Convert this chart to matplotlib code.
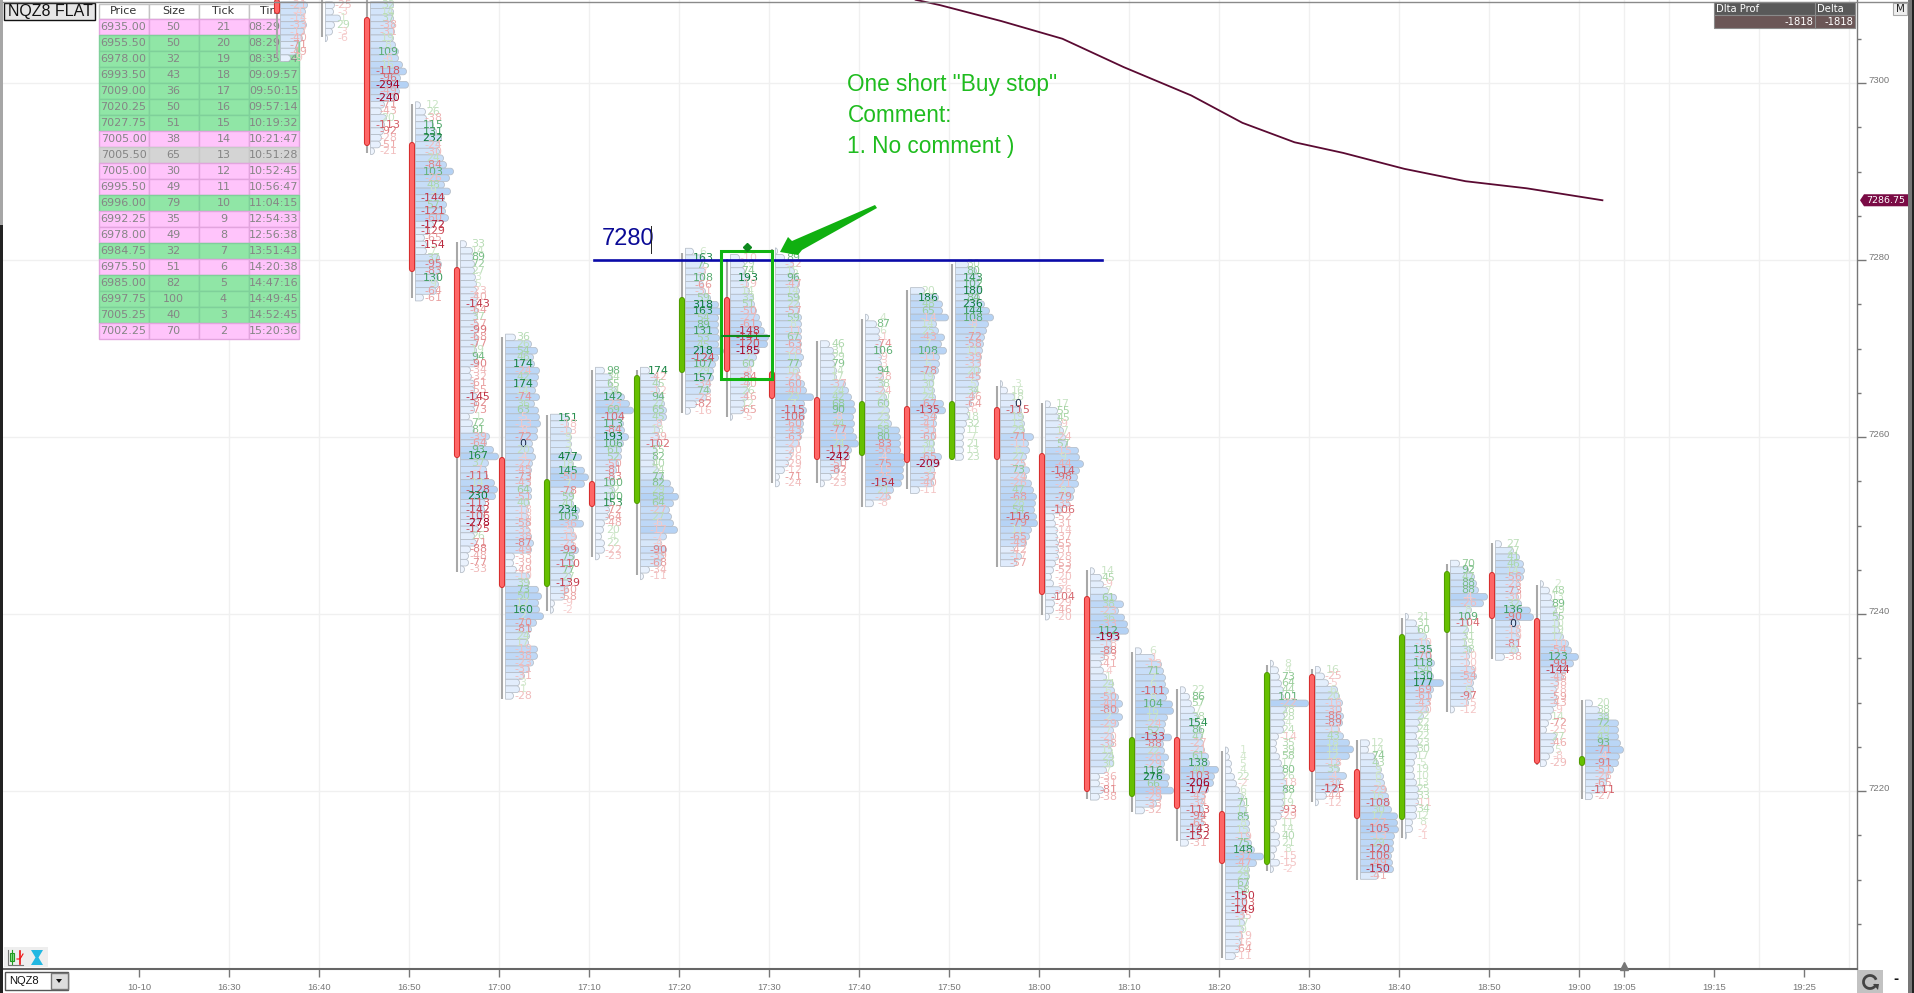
import matplotlib
matplotlib.use("Agg")
import matplotlib.pyplot as plt
from matplotlib.colors import LinearSegmentedColormap
from matplotlib.patches import Arc, PathPatch, Polygon, Rectangle
from matplotlib.path import Path

# ==========================================
# 1. DATA
# ==========================================
# bars, minutes after midnight
bar_minutes = [995, 1000, 1005, 1010, 1015, 1020, 1025, 1030, 1035, 1040, 1045, 1050, 1055, 1060, 1065,
               1070, 1075, 1080, 1085, 1090, 1095, 1100, 1105, 1110, 1115, 1120, 1125, 1130, 1135, 1140]
bar_top = [7308.8, 7308.8, 7308.8, 7297.5, 7281.8, 7271.25, 7262.2, 7267.5, 7267.5, 7280.95,
           7280.25, 7281.0, 7270.5, 7273.5, 7276.5, 7279.5, 7266.0, 7263.7, 7244.85, 7235.8,
           7231.4, 7224.6, 7234.4, 7233.7, 7225.4, 7239.7, 7245.7, 7247.9, 7243.4, 7229.9]
wick_hi = [7312.0, 7309.4, 7309.4, 7297.6, 7282.0, 7271.3, 7262.5, 7267.6, 7267.6, 7280.8,
           7280.1, 7281.2, 7270.8, 7273.3, 7276.6, 7279.5, 7265.8, 7263.8, 7245.0, 7235.7,
           7231.5, 7224.5, 7234.2, 7233.8, 7225.8, 7239.5, 7245.7, 7248.0, 7243.3, 7230.3]
wick_lo = [7302.9, 7305.2, 7292.1, 7275.7, 7244.8, 7230.4, 7240.3, 7246.4, 7244.4, 7262.7,
           7262.3, 7254.8, 7254.8, 7252.1, 7254.1, 7257.4, 7245.3, 7239.9, 7219.1, 7217.6,
           7214.3, 7201.1, 7211.0, 7218.8, 7210.0, 7214.7, 7228.9, 7234.9, 7222.9, 7219.1]
body_open = [7309.5, 7307.5, 7307.5, 7293.3, 7279.2, 7257.7, 7243.1, 7255.0, 7252.4, 7267.2,
             7275.8, 7267.5, 7264.5, 7257.9, 7263.5, 7257.4, 7263.4, 7258.2, 7242.0, 7219.3,
             7226.1, 7217.7, 7211.6, 7233.2, 7222.5, 7216.7, 7237.8, 7244.7, 7239.5, 7222.8]
body_close = [7307.8, 7307.5, 7292.9, 7278.6, 7257.6, 7242.9, 7255.2, 7252.1, 7267.0, 7275.8,
              7267.4, 7264.3, 7257.4, 7264.1, 7257.1, 7264.1, 7257.4, 7242.1, 7219.9, 7226.1,
              7218.0, 7211.8, 7233.4, 7222.1, 7216.8, 7237.7, 7244.9, 7239.4, 7223.1, 7223.9]

# delta per price row, top row first, and profile volume per row (about 1 unit = 1 px)
delta_1635 = [-21, -4, -14, -33, -17, -40, -71, -49, -9]
vol_1635 = [27, 25, 24, 26, 24, 22, 18, 16, 10]
delta_1640 = [-25, -3, 1, 29, -3, -6]
vol_1640 = [9, 8, 15, 9, 7, 2]
delta_1645 = [32, 14, 37, -38, -31, 19, 8, 109, -6, 16, -118, -96, -294, -49, -240, -71, -43, 20, -113, -92, -28, -51, -21]
vol_1645 = [23, 23, 23, 24, 24, 23, 25, 28, 28, 32, 36, 30, 38, 29, 26, 14, 11, 16, 14, 13, 11, 10, 4]
delta_1650 = [12, 26, -38, 115, 131, 232, -24, -30, 24, -84, 103, -26, 48, 9, -144, 57, -121, -60, -172, -129, -65, -154, 7, 37, -95, -83, 130, 9, -64, -61]
vol_1650 = [5, 10, 11, 18, 21, 26, 24, 24, 28, 31, 38, 34, 29, 35, 29, 31, 30, 33, 18, 14, 9, 11, 11, 24, 26, 24, 23, 23, 21, 8]
delta_1655 = [33, 14, 89, 72, 27, 3, 5, -23, -40, -143, -64, 37, -57, -99, -68, -77, 19, 94, -90, -34, -32, -61, -55, -145, -82, -73, 1, 72, 81, -39, -64, 93, 167, 37, -7, -111, 14, -128, 230, -113, -142, -106, -278, -125, 26, -71, -88, -48, -77, -33]
vol_1655 = [6, 12, 13, 14, 14, 15, 16, 16, 17, 17, 17, 17, 17, 17, 17, 17, 16, 17, 17, 10, 11, 14, 14, 17, 16, 14, 9, 12, 14, 29, 26, 33, 38, 28, 26, 27, 34, 37, 35, 25, 24, 23, 19, 18, 14, 16, 10, 8, 8, 4]
delta_1700 = [36, 26, 54, 46, 174, -24, 42, 174, 14, -74, 36, 63, -5, -13, -8, -72, 0, 20, -4, -27, -45, -73, -43, 64, -51, 40, -18, -18, -58, -35, -38, -87, -49, -33, -39, -49, -10, 39, 73, 50, 12, 160, 2, -70, -81, 24, 17, -19, -38, -23, -31, -31, 3, 1, -28]
vol_1700 = [10, 26, 32, 28, 29, 34, 33, 32, 30, 34, 29, 33, 34, 35, 32, 32, 27, 28, 30, 27, 26, 25, 25, 26, 26, 24, 23, 23, 24, 24, 26, 28, 26, 9, 8, 11, 24, 24, 33, 36, 33, 34, 38, 31, 26, 24, 23, 32, 32, 28, 24, 19, 14, 14, 8]
delta_1705 = [151, -18, -13, 9, 3, 7, 477, 18, 145, -50, 7, -78, 59, 41, 234, 105, -36, -5, -19, -25, -99, 75, -110, 77, 27, -139, -60, -58, -9, -2]
vol_1705 = [18, 18, 21, 21, 21, 21, 31, 23, 34, 38, 34, 23, 23, 23, 29, 28, 33, 23, 26, 23, 28, 24, 23, 21, 21, 19, 18, 14, 4, 3]
delta_1710 = [98, 34, 65, 34, 142, -23, 69, -104, 113, -84, 193, 106, 61, 52, -50, -81, -83, 100, 32, 100, 153, -72, -64, -48, 20, 4, 22, -22, -23]
vol_1710 = [9, 16, 16, 21, 29, 34, 38, 28, 28, 29, 33, 28, 26, 26, 23, 21, 19, 19, 19, 18, 16, 14, 13, 9, 8, 6, 9, 9, 4]
delta_1715 = [174, -42, 45, -12, 94, 27, 65, 45, -8, 13, -39, -102, 55, 82, 40, 24, 77, 82, 29, 58, 64, -27, 27, -6, -17, -7, -4, -90, -39, -68, -34, -11]
vol_1715 = [9, 16, 19, 19, 23, 24, 26, 26, 21, 19, 19, 19, 16, 16, 14, 18, 23, 30, 33, 38, 33, 29, 31, 33, 37, 26, 21, 26, 23, 21, 9, 3]
delta_1720 = [6, 163, 75, -7, 108, -66, -31, 59, 318, 163, 54, 89, 131, 53, 45, 218, -124, 107, 29, 157, -34, 74, -28, -82, -16]
vol_1720 = [8, 18, 18, 20, 18, 18, 20, 25, 33, 36, 33, 33, 33, 34, 33, 38, 33, 30, 28, 28, 25, 25, 21, 11, 5]
delta_1725 = [-10, 29, 74, 193, -19, 14, 33, 51, -50, -27, -61, -148, -141, -120, -185, 7, 60, -4, -84, -40, 26, -46, 12, -65, -5]
vol_1725 = [9, 14, 14, 18, 18, 19, 23, 24, 26, 29, 31, 34, 38, 37, 29, 26, 23, 21, 21, 19, 18, 17, 14, 13, 2]
delta_1730 = [6, 89, -32, 15, 96, -47, 14, 59, 22, -57, 59, 8, -11, 67, -63, -28, 11, 77, 16, -26, -60, -40, 23, 7, -115, -106, -60, -43, -63, -21, -20, -26, -29, -12, -71, -24]
vol_1730 = [2, 9, 18, 19, 23, 24, 24, 24, 24, 24, 26, 26, 26, 26, 26, 26, 28, 26, 24, 24, 29, 31, 38, 29, 31, 29, 28, 28, 26, 24, 18, 16, 13, 9, 4, 4]
delta_1735 = [46, 31, 29, 79, 14, 17, -37, 24, 42, 68, 90, -8, 44, -77, -13, 24, -112, -242, -50, -82, -23, -23]
vol_1735 = [9, 13, 14, 14, 16, 16, 25, 28, 31, 34, 35, 33, 34, 33, 36, 38, 31, 29, 21, 19, 11, 4]
delta_1740 = [4, 87, 6, -1, -74, 106, -9, -3, 94, -28, 38, -24, 20, 60, 2, 23, 25, 58, 80, -83, -56, -4, -75, -15, -25, -154, 21, -26, -8]
vol_1740 = [3, 11, 14, 14, 16, 16, 16, 16, 18, 18, 19, 19, 21, 23, 24, 24, 26, 34, 35, 35, 35, 39, 39, 38, 38, 36, 28, 24, 8]
delta_1745 = [20, 186, 48, 65, -14, 14, 25, -43, 7, 108, -11, 6, -78, 19, 30, 19, 24, -67, -135, -54, -41, -31, -60, 30, 14, -65, -209, 9, -37, -40, -11]
vol_1745 = [14, 28, 32, 32, 38, 26, 28, 34, 31, 36, 29, 29, 28, 24, 23, 24, 25, 33, 35, 26, 26, 25, 24, 24, 24, 31, 29, 24, 24, 23, 9]
delta_1750 = [30, 80, 143, 102, 180, 84, 236, 144, 108, -8, 7, -72, -58, 11, -39, -33, 20, -45, 5, 34, -46, -64, -6, 18, 32, 11, 7, 21, 13, 23]
vol_1750 = [13, 21, 24, 24, 26, 24, 29, 34, 38, 33, 31, 29, 28, 27, 26, 25, 25, 24, 23, 21, 19, 16, 13, 13, 11, 9, 8, 8, 8, 8]
delta_1755 = [3, 16, 18, 0, -115, 19, 13, 29, -71, -11, 6, 27, -25, 73, -24, -26, 47, -68, 28, 54, -116, -79, 11, -65, -49, -42, -17, -57]
vol_1755 = [2, 7, 14, 16, 21, 23, 24, 24, 33, 28, 29, 26, 24, 29, 26, 31, 33, 36, 35, 34, 36, 37, 31, 29, 26, 14, 21, 16]
delta_1800 = [17, 55, 45, -9, 17, -24, 57, -15, 9, -44, -114, -98, -21, 8, -79, -35, -106, -52, -31, -14, -37, -55, -31, -28, -53, -52, -20, -9, -26, -104, -29, -46, -20]
vol_1800 = [5, 12, 14, 16, 18, 20, 22, 33, 34, 38, 34, 32, 33, 29, 28, 24, 16, 9, 10, 12, 12, 13, 13, 13, 10, 8, 6, 8, 16, 10, 9, 8, 4]
delta_1805 = [14, 45, -9, 7, 61, 38, -23, 36, -33, 112, -193, -18, -88, -53, -41, -4, 1, 24, 6, -50, -40, -80, 2, -29, 7, -20, -38, 15, 24, 30, 7, -36, -31, -81, -38]
vol_1805 = [4, 11, 13, 18, 26, 33, 28, 34, 37, 38, 29, 21, 21, 14, 11, 13, 16, 23, 24, 28, 32, 28, 32, 28, 23, 23, 23, 21, 23, 23, 16, 9, 9, 13, 9]
delta_1810 = [6, -1, -13, 71, 7, 6, -111, 8, 104, 16, 17, -24, 52, -133, -88, 22, -26, -29, 116, 276, 66, -38, -29, -33, -32]
vol_1810 = [6, 19, 26, 28, 30, 30, 33, 31, 37, 38, 32, 30, 29, 36, 28, 29, 33, 29, 29, 34, 33, 38, 26, 21, 9]
delta_1815 = [22, 86, 57, 7, 38, 154, 86, 47, -27, -21, 61, 138, 40, -103, -206, -177, -43, -34, -113, -94, -65, -143, -152, -31]
vol_1815 = [5, 9, 11, 14, 18, 19, 21, 22, 23, 24, 28, 29, 38, 34, 33, 28, 24, 23, 23, 23, 23, 21, 19, 8]
delta_1820 = [1, 4, 5, 4, 22, -2, 6, 8, 71, 17, 85, 8, 15, -19, 75, 148, -37, -47, 24, 29, 67, 58, -150, -103, -149, -35, 17, 9, -19, -16, -64, -11]
vol_1820 = [3, 4, 6, 6, 9, 11, 14, 18, 19, 21, 23, 24, 24, 24, 26, 29, 38, 31, 24, 24, 23, 21, 21, 21, 20, 19, 19, 18, 17, 15, 14, 10]
delta_1825 = [8, 4, 73, 64, 44, 101, -22, 28, 28, 4, 24, -14, 35, 39, 58, 17, 80, 26, -18, 88, 17, 19, -93, -29, 11, 14, 40, 21, 8, -15, -15, -2]
vol_1825 = [3, 8, 9, 11, 13, 13, 38, 16, 14, 14, 13, 8, 6, 6, 9, 11, 13, 14, 16, 16, 14, 13, 13, 11, 6, 4, 9, 9, 6, 4, 9, 3]
delta_1830 = [16, -25, -5, 6, 20, -16, -30, -86, -89, -11, 43, 18, 14, 12, -18, 35, -4, -30, -125, -44, -12]
vol_1830 = [5, 9, 13, 22, 24, 27, 26, 28, 27, 24, 28, 34, 38, 34, 24, 24, 31, 24, 23, 11, 3]
delta_1835 = [12, 14, 74, 43, 9, 6, 5, -29, 16, -108, 30, 17, -27, -105, -13, 29, -120, -106, -49, -150, -41]
vol_1835 = [9, 8, 14, 18, 21, 23, 24, 26, 28, 29, 31, 37, 37, 38, 34, 33, 33, 31, 32, 33, 18]
delta_1840 = [21, 31, 60, 2, -10, 135, -70, 118, 54, 130, 177, -69, -61, -43, -20, 22, 22, 24, 22, 23, 30, 17, 5, 19, 10, 13, 25, 33, -11, 34, 12, 8, -2, -1]
vol_1840 = [3, 11, 14, 21, 24, 26, 26, 29, 26, 28, 38, 28, 26, 24, 23, 18, 14, 13, 11, 13, 13, 11, 9, 8, 9, 11, 13, 13, 13, 11, 11, 7, 7, 1]
delta_1845 = [70, 92, 47, 88, 88, -4, -26, 8, 109, -104, 21, 31, 19, 38, -10, -10, -19, -54, -9, 6, -97, -15, -12]
vol_1845 = [9, 18, 24, 26, 28, 37, 33, 21, 20, 18, 18, 16, 16, 21, 19, 19, 24, 26, 23, 23, 21, 18, 4]
delta_1850 = [27, 27, 41, 46, 14, -56, -28, -73, -30, 32, 136, -90, 0, -18, -19, -81, 8, -38]
vol_1850 = [6, 18, 24, 28, 29, 28, 24, 23, 23, 26, 35, 38, 24, 24, 24, 23, 23, 9]
delta_1855 = [2, 48, 13, 89, 29, 55, 10, 19, 17, -10, -54, 123, -99, -144, -48, -38, -28, -59, -43, -9, 14, -72, -25, 27, -46, 5, -8, -29]
vol_1855 = [3, 9, 11, 13, 16, 19, 19, 19, 23, 28, 31, 38, 33, 26, 23, 18, 16, 16, 16, 13, 11, 8, 6, 16, 14, 13, 9, 6]
delta_1900 = [20, 38, 38, 72, 20, 43, 93, -71, -4, -91, -51, -26, -65, -111, -27]
vol_1900 = [7, 14, 23, 33, 33, 33, 35, 38, 34, 33, 28, 23, 21, 18, 7]

all_deltas = [delta_1635, delta_1640, delta_1645, delta_1650, delta_1655, delta_1700, delta_1705, delta_1710,
              delta_1715, delta_1720, delta_1725, delta_1730, delta_1735, delta_1740, delta_1745, delta_1750,
              delta_1755, delta_1800, delta_1805, delta_1810, delta_1815, delta_1820, delta_1825, delta_1830,
              delta_1835, delta_1840, delta_1845, delta_1850, delta_1855, delta_1900]
all_vols = [vol_1635, vol_1640, vol_1645, vol_1650, vol_1655, vol_1700, vol_1705, vol_1710,
            vol_1715, vol_1720, vol_1725, vol_1730, vol_1735, vol_1740, vol_1745, vol_1750,
            vol_1755, vol_1800, vol_1805, vol_1810, vol_1815, vol_1820, vol_1825, vol_1830,
            vol_1835, vol_1840, vol_1845, vol_1850, vol_1855, vol_1900]

# average line
vwap_minutes = [1066.3, 1069.0, 1075.8, 1082.6, 1089.4, 1096.9, 1102.6, 1108.4, 1113.8, 1120.6, 1127.4, 1134.2, 1142.6]
vwap_price = [7309.4, 7308.8, 7307.0, 7305.0, 7301.8, 7298.6, 7295.5, 7293.3, 7292.1, 7290.3, 7288.9, 7288.1, 7286.75]
last_price = 7286.75

# time and sales table
table_header = ["Price", "Size", "Tick", "Time"]
table_price = [6935.00, 6955.50, 6978.00, 6993.50, 7009.00, 7020.25, 7027.75, 7005.00, 7005.50, 7005.00,
               6995.50, 6996.00, 6992.25, 6978.00, 6984.75, 6975.50, 6985.00, 6997.75, 7005.25, 7002.25]
table_size = [50, 50, 32, 43, 36, 50, 51, 38, 65, 30, 49, 79, 35, 49, 32, 51, 82, 100, 40, 70]
table_tick = [21, 20, 19, 18, 17, 16, 15, 14, 13, 12, 11, 10, 9, 8, 7, 6, 5, 4, 3, 2]
table_time = ["08:29:50", "08:29:52", "08:35:24", "09:09:57", "09:50:15", "09:57:14", "10:19:32", "10:21:47",
              "10:51:28", "10:52:45", "10:56:47", "11:04:15", "12:54:33", "12:56:38", "13:51:43", "14:20:38",
              "14:47:16", "14:49:45", "14:52:45", "15:20:36"]
table_side = ["s", "b", "b", "b", "b", "b", "b", "s", "n", "s", "s", "b", "s", "s", "b", "s", "b", "b", "b", "s"]

# axis
xtick_minutes = [980, 990, 1000, 1010, 1020, 1030, 1040, 1050, 1060, 1070, 1080, 1090, 1100, 1110, 1120, 1130, 1140, 1145, 1155, 1165]
xtick_labels = ["10-10", "16:30", "16:40", "16:50", "17:00", "17:10", "17:20", "17:30", "17:40", "17:50", "18:00",
                "18:10", "18:20", "18:30", "18:40", "18:50", "19:00", "19:05", "19:15", "19:25"]
xgrid_minutes = [990, 1000, 1010, 1020, 1030, 1040, 1050, 1060, 1070, 1080, 1090, 1100, 1110, 1120, 1130, 1140, 1145, 1150, 1160, 1170]
ytick_major = [7220, 7240, 7260, 7280, 7300]
ytick_minor = [7205, 7210, 7215, 7225, 7230, 7235, 7245, 7250, 7255, 7265, 7270, 7275, 7285, 7290, 7295, 7305]

# ==========================================
# 2. CONFIG
# ==========================================
W, H = 1915, 993
AX_L, AX_R, AX_B = 3, 1857, 969
PX_MIN = 9.0       # pixels per minute
PX_PT = 8.85       # pixels per index point
ROW = 0.75         # price step of one profile row

GREEN_TXT = "#1fbc1f"
blues = LinearSegmentedColormap.from_list("vol", ["#f4f8ff", "#dbe9fb", "#b4d2f5"])
greens = LinearSegmentedColormap.from_list("pos", ["#d6ead0", "#9ccf9c", "#3f9f60", "#0a7a38"])
reds = LinearSegmentedColormap.from_list("neg", ["#f6cfcf", "#e9a0a0", "#cc4a55", "#a30022"])


def row_path(x0, w, yc, h, rx):
    # profile row with a rounded right end
    rx = min(rx, w)
    xr = x0 + w
    y0, y1 = yc - h / 2, yc + h / 2
    k = 0.5523
    verts = [(x0, y0), (xr - rx, y0), (xr - rx + k * rx, y0), (xr, yc - k * h / 2), (xr, yc),
             (xr, yc + k * h / 2), (xr - rx + k * rx, y1), (xr - rx, y1), (x0, y1), (x0, y0)]
    codes = [Path.MOVETO, Path.LINETO, Path.CURVE4, Path.CURVE4, Path.CURVE4, Path.CURVE4,
             Path.CURVE4, Path.CURVE4, Path.LINETO, Path.CLOSEPOLY]
    return Path(verts, codes)


def delta_color(d):
    if d == 0:
        return "#1c2a4a"
    level = min(abs(d) / 190.0, 1.0)
    return greens(level) if d > 0 else reds(level)


def draw_cluster(ax, i):
    x = bar_minutes[i] + 3 / PX_MIN
    top = bar_top[i]
    for r, (d, v) in enumerate(zip(all_deltas[i], all_vols[i])):
        y = top - r * ROW
        p = row_path(x + 3.5 / PX_MIN, v / PX_MIN, y, ROW, 3 / PX_MIN)
        ax.add_patch(PathPatch(p, facecolor=blues(min(v / 38.0, 1.0)), edgecolor="#b4bcc6", lw=0.55, zorder=3))
        ax.text(x + 21 / PX_MIN, y, str(d), ha="center", va="center", fontsize=7.9, color=delta_color(d),
                zorder=4, clip_on=True)

    ax.plot([x, x], [wick_lo[i], wick_hi[i]], color="#a8a8a8", lw=1.5, solid_capstyle="butt", zorder=5)

    o, c = body_open[i], body_close[i]
    if c > o:
        edge, fill = "#4f9a00", "#66c000"
    elif c < o:
        edge, fill = "#d42a2a", "#ff6666"
    else:
        edge, fill = "#999999", "#bbbbbb"
    lo, hi = min(o, c), max(o, c)
    s = min(0.34, (hi - lo) / 2)
    ax.plot([x, x], [lo + s, hi - s], color=edge, lw=4.4, solid_capstyle="round", zorder=5.1)
    ax.plot([x, x], [lo + s, hi - s], color=fill, lw=3.0, solid_capstyle="round", zorder=5.2)


# ==========================================
# 3. MAIN
# ==========================================
fig = plt.figure(figsize=(W / 100, H / 100), dpi=100, facecolor="white")
ax = fig.add_axes([AX_L / W, (H - AX_B) / H, (AX_R - AX_L) / W, AX_B / H])
ax.set_xlim(1020 + (AX_L - 499) / PX_MIN, 1020 + (AX_R - 499) / PX_MIN)
ax.set_ylim(7300 - (AX_B - 83) / PX_PT, 7300 + 83 / PX_PT)

for side in ["top", "left"]:
    ax.spines[side].set_visible(False)
ax.spines["bottom"].set_color("#666666")
ax.spines["bottom"].set_linewidth(1.5)
ax.spines["right"].set_color("#777777")
ax.spines["right"].set_linewidth(1.0)

# grid
for m in xgrid_minutes:
    ax.axvline(m, color="#f0f0f0", lw=1, zorder=0.5)
for p in ytick_major:
    ax.axhline(p, color="#f0f0f0", lw=1, zorder=0.5)

# ticks
ax.set_xticks(xtick_minutes)
ax.set_xticklabels(xtick_labels, fontsize=6.8, color="#777777", family="Liberation Sans")
ax.tick_params(axis="x", length=5.8, width=1, color="#777777", pad=4)
ax.yaxis.tick_right()
ax.set_yticks(ytick_major)
ax.set_yticks(ytick_minor, minor=True)
ax.set_yticklabels([str(p) for p in ytick_major], fontsize=6.8, color="#777777", family="Liberation Sans", va="baseline")
ax.tick_params(axis="y", which="major", length=6.3, width=1, color="#777777", pad=1.6)
ax.tick_params(axis="y", which="minor", length=3, width=1, color="#777777")

# time and sales table, under the clusters
side_colors = {"s": ("#ffc4fb", "#e2a4de"), "b": ("#90e6a6", "#7fd09a"), "n": ("#d4d4d4", "#c8c8c8")}
cell_text = [[f"{a:.2f}", str(b), str(c), t] for a, b, c, t in zip(table_price, table_size, table_tick, table_time)]
tb = ax.table(cellText=cell_text, colLabels=table_header, colWidths=[0.25] * 4, cellLoc="center",
              bbox=[(98.5 - AX_L) / (AX_R - AX_L), (AX_B - 339) / AX_B, 200 / (AX_R - AX_L), 335 / AX_B])
tb.set_zorder(1)
tb.auto_set_font_size(False)
tb.set_fontsize(8)
for (r, c), cell in tb.get_celld().items():
    cell.PAD = 0.01
    if r == 0:
        cell.set_height(15)
        cell.set_facecolor("white")
        cell.set_edgecolor("#c4c4c4")
        cell.get_text().set_color("#333333")
    else:
        cell.set_height(16)
        fc, ec = side_colors[table_side[r - 1]]
        cell.set_facecolor(fc)
        cell.set_edgecolor(ec)
        cell.get_text().set_color("#858585")

# footprint clusters
for i in range(len(bar_minutes)):
    draw_cluster(ax, i)

# average line and last price
ax.plot(vwap_minutes, vwap_price, color="#5a0a32", lw=1.3, zorder=6)
frac = lambda px: (px - AX_L) / (AX_R - AX_L)
ax.add_patch(Polygon([(frac(1860), last_price), (frac(1864), last_price + 0.68), (frac(1908), last_price + 0.68),
                      (frac(1908), last_price - 0.68), (frac(1864), last_price - 0.68)],
                     closed=True, facecolor="#7a0b45", edgecolor="none", transform=ax.get_yaxis_transform(),
                     clip_on=False, zorder=7))
ax.text(frac(1886), last_price, f"{last_price:.2f}", color="white", fontsize=6.8, ha="center", va="center",
        transform=ax.get_yaxis_transform(), clip_on=False, zorder=8)

# hand drawn level and entry box
ax.plot([1030.6, 1087], [7280, 7280], color="#0a0aa8", lw=1.9, zorder=6)
ax.text(1031.4, 7282.4, "7280", color="#0a0a96", fontsize=17, family="Liberation Sans", ha="left", va="center", zorder=7)
ax.plot([1036.9, 1036.9], [7280.8, 7283.8], color="#222222", lw=0.7, zorder=7)
ax.add_patch(Rectangle((1044.67, 7266.55), 5.63, 14.5, fill=False, edgecolor="#12b512", lw=2.2, zorder=6))
ax.plot([1044.8, 1050], [7271.45, 7271.45], color="#0e8a1e", lw=1.5, zorder=6)
ax.plot([1047.5], [7281.5], marker="D", ms=3.6, color="#0e8a1e", zorder=6)
ax.plot([1145], [3 / AX_B], marker="^", ms=6, color="#777777", transform=ax.get_xaxis_transform(), clip_on=False, zorder=6)

# overlay in screen pixels for the window parts
ov = fig.add_axes([0, 0, 1, 1], zorder=5)
ov.set_xlim(0, W)
ov.set_ylim(H, 0)
ov.axis("off")
ov.patch.set_alpha(0)

# window frame
ov.add_patch(Rectangle((0, 0), 3, 225, color="#a6a6a6", lw=0))
ov.add_patch(Rectangle((0, 225), 3, H - 225, color="#222222", lw=0))
ov.add_patch(Rectangle((1908, 0), 4, H, color="#777777", lw=0))
ov.add_patch(Rectangle((1912, 0), 3, H, color="#222222", lw=0))
ov.plot([3, 1908], [1.5, 1.5], color="#8a8a8a", lw=1)

# chart name
ov.add_patch(Rectangle((4.5, 3), 91, 17, facecolor="#e6e6e6", edgecolor="#111111", lw=1))
ov.text(8, 11.5, "NQZ8 FLAT", fontsize=11.5, family="Liberation Sans", color="#111111", ha="left", va="center")

# notes
ov.text(847.5, 85, 'One short "Buy stop"', fontsize=16.3, family="Liberation Sans", color=GREEN_TXT, va="center")
ov.text(847.5, 116, "Comment:", fontsize=16.3, family="Liberation Sans", color=GREEN_TXT, va="center")
ov.text(847.5, 147, "1. No comment )", fontsize=16.3, family="Liberation Sans", color=GREEN_TXT, va="center")
ov.add_patch(Polygon([(780, 252), (788, 237), (792, 241), (875, 205), (877, 208), (802, 250), (798, 255)],
                     closed=True, color="#10b010", lw=0))

# delta panel
ov.add_patch(Rectangle((1714, 2), 141, 13, facecolor="#595959", edgecolor="#8a8a8a", lw=0.8))
ov.add_patch(Rectangle((1714, 15), 141, 13, facecolor="#6b5656", edgecolor="#8a8a8a", lw=0.8))
ov.plot([1815, 1815], [2, 28], color="#8a8a8a", lw=0.8)
ov.text(1716, 9, "Dlta Prof", color="white", fontsize=7.2, va="center")
ov.text(1817, 9, "Delta", color="white", fontsize=7.2, va="center")
ov.text(1813, 22, "-1818", color="white", fontsize=7.2, ha="right", va="center")
ov.text(1853, 22, "-1818", color="white", fontsize=7.2, ha="right", va="center")

# M button
ov.add_patch(Rectangle((1893, 3), 14, 12, facecolor="#eeeeee", edgecolor="#aaaaaa", lw=0.8))
ov.text(1900, 9, "M", fontsize=7.5, color="#222222", ha="center", va="center")

# small icons
ov.add_patch(Rectangle((4, 947), 44, 20, color="#eeeeee", lw=0))
ov.plot([8, 8, 23], [950, 965, 965], color="#777777", lw=0.8)
ov.plot([12, 12], [950, 964], color="#22a022", lw=0.8)
ov.add_patch(Rectangle((10, 953), 4, 8, facecolor="#90e090", edgecolor="#229922", lw=0.8))
ov.plot([20, 20], [951, 964], color="#ee1111", lw=1.2)
ov.plot([17, 20, 23], [959, 959, 954], color="#ee1111", lw=0.8)
ov.add_patch(Polygon([(31, 950), (43, 950), (38.5, 957.5), (43, 965), (31, 965), (35.5, 957.5)], closed=True, color="#22b8e2", lw=0))

# symbol box
ov.add_patch(Rectangle((5, 972), 63, 18, facecolor="white", edgecolor="#555555", lw=1))
ov.add_patch(Rectangle((51, 973), 17, 16, facecolor="#dddddd", edgecolor="#777777", lw=1))
ov.add_patch(Polygon([(56, 979), (62, 979), (59, 983)], closed=True, color="#111111", lw=0))
ov.text(9, 981, "NQZ8", fontsize=8, family="Liberation Sans", color="#111111", va="center")

# refresh button
ov.add_patch(Rectangle((1857, 970), 26, 23, color="#c2c2c2", lw=0))
ov.add_patch(Arc((1870, 982), 13, 13, theta1=20, theta2=340, color="#444444", lw=2))
ov.add_patch(Polygon([(1873, 984), (1879, 984), (1878, 990)], closed=True, color="#444444", lw=0))
ov.text(1896, 980, "-", fontsize=9, color="#111111", ha="center", va="center", fontweight="bold")

fig.savefig("out.png", dpi=100, facecolor="white")
